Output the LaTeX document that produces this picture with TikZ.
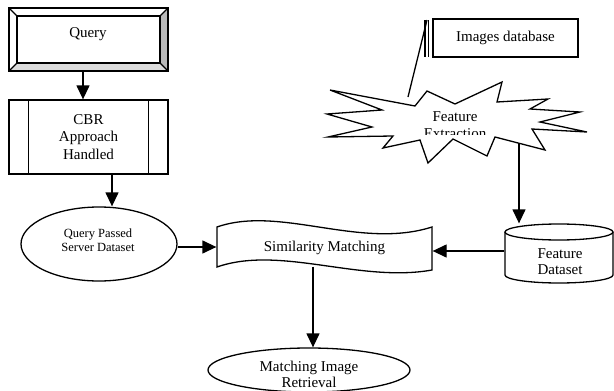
\documentclass[tikz,border=0pt]{standalone}
\usepackage{fontspec}
\setmainfont{Liberation Serif}
\usetikzlibrary{arrows.meta,shapes.geometric}
\begin{document}
\begin{tikzpicture}[x=1pt,y=-1pt,line width=1.3pt,
  txt/.style={font=\fontsize{15}{17}\selectfont,align=center,inner sep=0pt},
  smalltxt/.style={font=\fontsize{12.5}{14}\selectfont,align=center,inner sep=0pt},
  conn/.style={-{Triangle[length=14pt,width=13pt]},line width=1.3pt},
  box/.style={draw,rectangle,inner sep=0pt,fill=white},
  ghost/.style={rectangle,inner sep=0pt}]
\useasboundingbox (0,0) rectangle (614,391);

% Query bevel box
\node[box,minimum width=159pt,minimum height=63pt] (query) at (88.5,39.5) {};
\fill[gray!55] (168,8) -- (168,71) -- (160,63) -- (160,16) -- cycle;
\fill[gray!28] (9,71) -- (168,71) -- (160,63) -- (17,63) -- cycle;
\draw (9,8) rectangle (168,71);
\draw (17,16) rectangle (160,63);
\draw (9,8) -- (17,16) (168,8) -- (160,16) (9,71) -- (17,63) (168,71) -- (160,63);
\node[txt] (querytext) at (88,34) {Query};

% CBR predefined process
\node[box,minimum width=159pt,minimum height=74pt,txt,text width=110pt,font=\fontsize{15}{17.5}\selectfont] (cbr) at (88.5,137) {CBR\\Approach\\Handled};
\draw ([xshift=20pt]cbr.north west) -- ([xshift=20pt]cbr.south west);
\draw ([xshift=-20pt]cbr.north east) -- ([xshift=-20pt]cbr.south east);

% Query Passed Server Dataset ellipse
\node[draw,ellipse,minimum width=156pt,minimum height=74pt,inner sep=0pt] (qps) at (99,244) {};
\node[smalltxt] (qpstext) at (98,240.5) {Query Passed\\Server Dataset};

% Similarity Matching wavy tape
\node[ghost,minimum width=215pt,minimum height=41pt] (sim) at (324.5,247.5) {};
\draw[fill=white] (217,227) .. controls (280,205) and (360,250) .. (432,227) -- (432,270)
   .. controls (360,283) and (280,245) .. (217,267) -- cycle;
\node[txt] (simtext) at (324.5,248) {Similarity Matching};

% Feature Dataset cylinder
\node[ghost,minimum width=108pt,minimum height=59pt] (fds) at (559,253.5) {};
\draw[fill=white] (505,232) -- (505,275) arc[start angle=180,end angle=360,x radius=54pt,y radius=8pt] -- (613,232);
\draw[fill=white] (559,232) ellipse[x radius=54pt,y radius=8pt];
\node[txt,font=\fontsize{15}{16}\selectfont] (fdstext) at (560,261.5) {Feature\\Dataset};

% Matching Image Retrieval ellipse
\node[draw,ellipse,minimum width=202pt,minimum height=44pt,inner sep=0pt] (mir) at (309,370) {};
\node[txt,font=\fontsize{15}{16}\selectfont] (mirtext) at (309,374) {Matching Image\\Retrieval};

% Images database with accent-bar callout
\node[box,minimum width=145pt,minimum height=38pt,txt] (imgdb) at (505.5,38) {Images database};
\draw (425,20) -- (425,57);
\draw (428.5,20) -- (428.5,57);
\coordinate (calloutTop) at (427,20);
\coordinate (calloutEnd) at (408,97);
\draw (calloutTop) -- (calloutEnd);

% Feature Extraction explosion
\draw[fill=white,line width=1.3pt,line join=miter] (330,90) -- (415,106) -- (427,91) -- (455,104) -- (502,82) -- (497,102)
  -- (548,99) -- (530,109) -- (580,112) -- (540,122) -- (587,132) -- (532,129) -- (545,150)
  -- (495,137) -- (487,156) -- (453,139) -- (428,163) -- (420,140) -- (383,148) -- (393,136)
  -- (328,137) -- (372,127) -- (327,114) -- (382,110) -- cycle;
\begin{scope}
  \clip (390,100) rectangle (520,134.5);
  \node[txt] (fe) at (455,125) {Feature\\Extraction};
\end{scope}
\coordinate (feS) at (519,143);

% connectors
\draw[conn] ([xshift=-5.5pt]query.south) -- ([xshift=-5.5pt]cbr.north);
\draw[conn] ([xshift=23.5pt]cbr.south) -- ([xshift=23.5pt]cbr.south |- qps.north);
\draw[conn] ([yshift=-3pt]qps.east) -- ([yshift=-3pt]qps.east -| sim.west);
\draw[conn] (feS) -- (feS |- fds.north);
\draw[conn] ([yshift=2.5pt]fds.west) -- ([yshift=2.5pt]fds.west -| sim.east);
\draw[conn] ([xshift=-11.5pt,yshift=2pt]sim.south) -- ([xshift=-11.5pt]sim.south |- mir.north);
\end{tikzpicture}
\end{document}
